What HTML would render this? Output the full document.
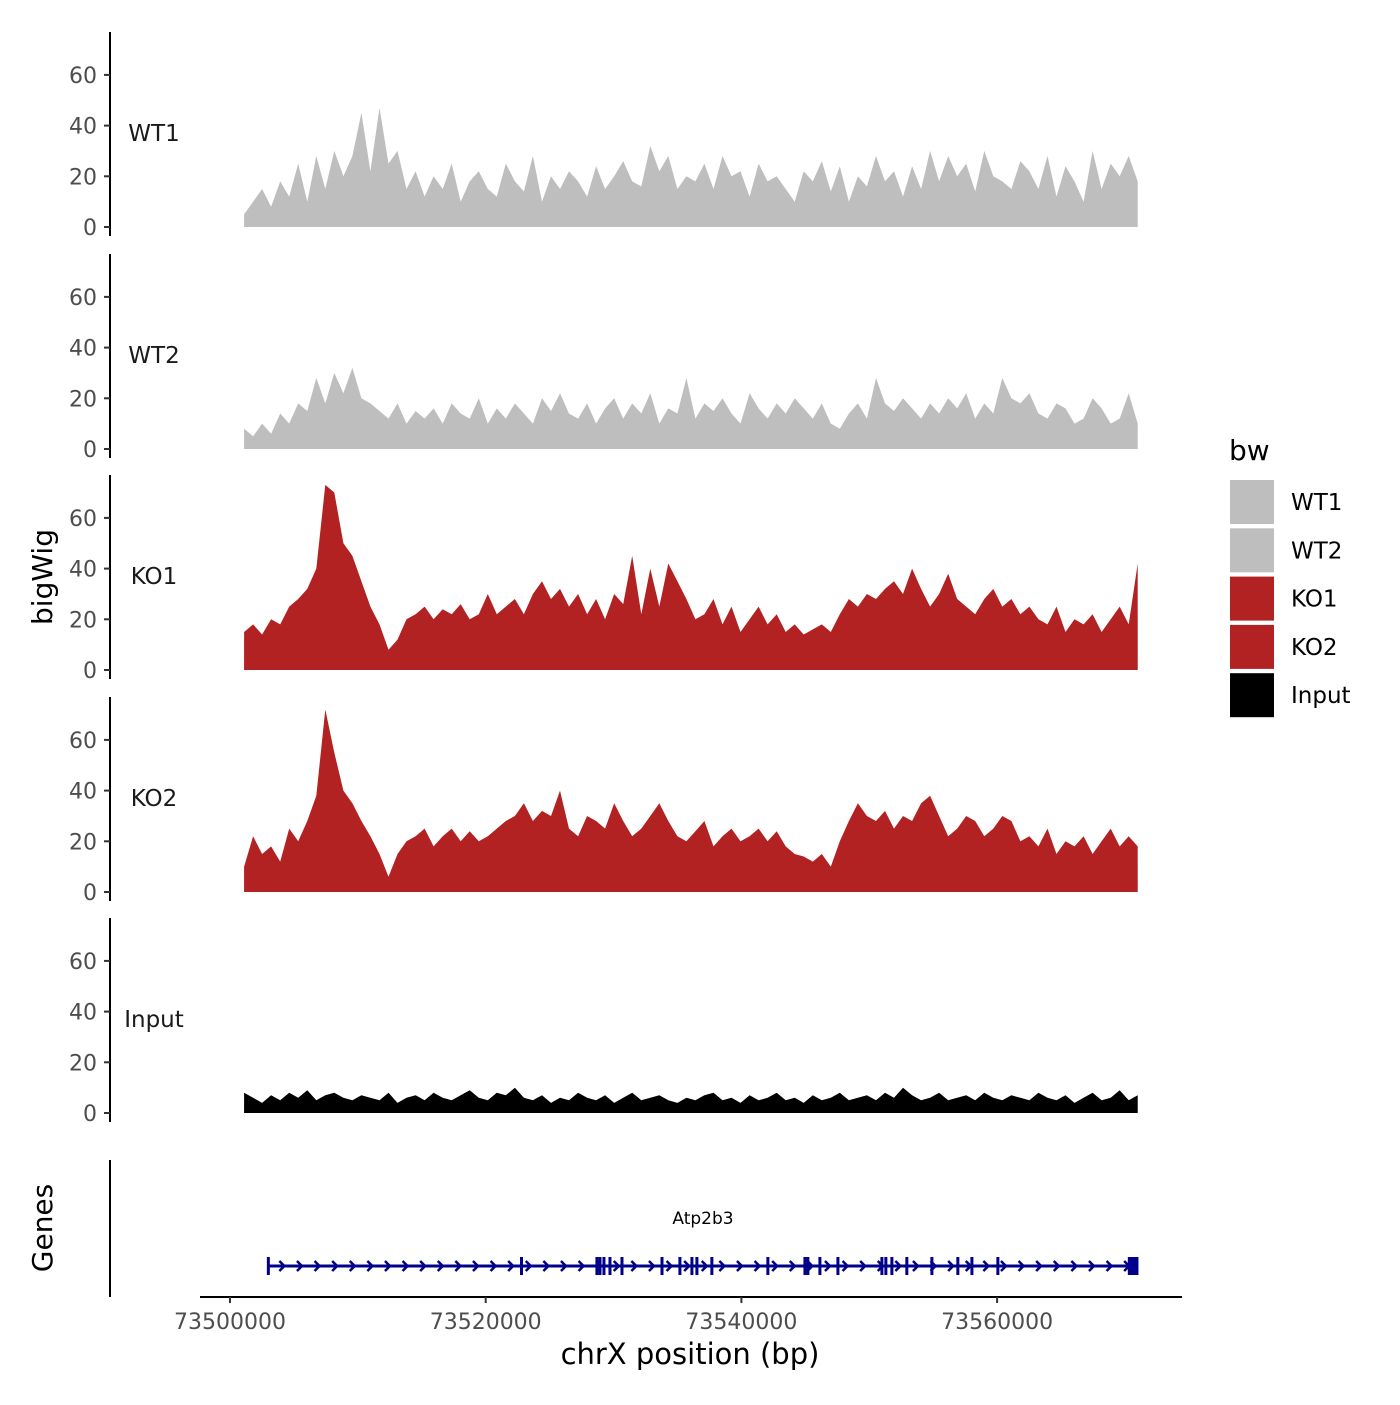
<!DOCTYPE html>
<html><head><meta charset="utf-8"><style>
html,body{margin:0;padding:0;background:#fff;}
svg text{font-family:"DejaVu Sans","Liberation Sans",sans-serif;}
</style></head><body>
<svg id="chart" width="1400" height="1400" viewBox="0 0 1400 1400" xmlns="http://www.w3.org/2000/svg">
<g id="panels"></g>
<g id="genes"></g>
<g id="legend"></g>
</svg>
<script>
const samples = ["WT1","WT2","KO1","KO2","Input"];
const colors = ["#bebebe","#bebebe","#b22222","#b22222","#000000"];
const yTicks = [0,20,40,60];
const xTicks = [73500000,73520000,73540000,73560000];
const xStart = 73501100, xEnd = 73571000;
const wt1 = [5,10,15,8,18,12,25,10,28,15,30,20,28,45,22,47,25,30,15,22,12,20,15,25,10,18,22,15,12,25,18,14,28,10,20,15,22,18,12,24,15,20,26,18,16,32,22,28,15,20,18,25,15,28,20,22,12,25,18,20,15,10,22,18,26,14,24,10,20,16,28,18,22,12,24,15,30,18,28,20,25,14,30,20,18,15,26,22,15,28,12,24,18,10,30,15,25,20,28,18];
const wt2 = [8,5,10,6,14,10,18,15,28,18,30,22,32,20,18,15,12,18,10,15,12,16,10,18,14,12,20,10,16,12,18,14,10,20,15,22,14,12,18,10,16,20,12,18,14,22,10,16,14,28,12,18,15,20,14,10,22,16,12,18,14,20,16,12,18,10,8,14,18,12,28,18,15,20,16,12,18,14,20,16,22,12,18,14,28,20,18,22,14,12,18,16,10,12,20,16,10,12,22,10];
const ko1 = [15,18,14,20,18,25,28,32,40,73,70,50,45,35,25,18,8,12,20,22,25,20,24,22,26,20,22,30,22,25,28,22,30,35,28,32,25,30,22,28,20,30,26,45,22,40,25,42,35,28,20,22,28,18,25,15,20,25,18,22,15,18,14,16,18,15,22,28,25,30,28,32,35,30,40,32,25,30,38,28,25,22,28,32,25,28,22,25,20,18,25,15,20,18,22,15,20,25,18,42];
const ko2 = [10,22,15,18,12,25,20,28,38,72,55,40,35,28,22,15,6,15,20,22,25,18,22,25,20,24,20,22,25,28,30,35,28,32,30,40,25,22,30,28,25,35,28,22,25,30,35,28,22,20,24,28,18,22,25,20,22,25,20,24,18,15,14,12,15,10,20,28,35,30,28,32,25,30,28,35,38,30,22,25,30,28,22,25,30,28,20,22,18,25,15,20,18,22,15,20,25,18,22,18];
const inp = [8,6,4,7,5,8,6,9,5,7,8,6,5,7,6,5,8,4,6,7,5,8,6,5,7,9,6,5,8,7,10,6,5,7,4,6,5,8,6,5,7,4,6,8,5,6,7,5,4,6,5,7,8,5,6,4,7,5,6,8,5,6,4,7,5,6,8,5,6,7,5,8,6,10,7,5,6,8,5,6,7,5,8,6,5,7,6,5,8,6,5,7,4,6,8,5,6,9,5,7];
const series = [wt1,wt2,ko1,ko2,inp];
const exons = [73503000,73522800,73528700,73528940,73529250,73529720,73530660,73533790,73535190,73536130,73536520,73537690,73542070,73544970,73545200,73546140,73547550,73550990,73551300,73551770,73552940,73554900,73556930,73558030,73560060];
const geneStart = 73503000, geneEnd = 73570900, exonBlockStart = 73570380;

const NS="http://www.w3.org/2000/svg";
function mk(tag, attrs, parent){const e=document.createElementNS(NS,tag);for(const k in attrs)e.setAttribute(k,attrs[k]);parent.appendChild(e);return e;}
const xs = v => 230 + (v-73500000)/20000*255.7;
const pxPerUnit = 50.7/20;
const panels = document.getElementById('panels');
const bases = [227,449,670,892,1113];

samples.forEach((s,p)=>{
  const base = bases[p];
  const ys = v => base - v*pxPerUnit;
  const g = mk('g',{},panels);
  
  
  const ax = mk('line',{x1:110,x2:110,y1:base-195,y2:base+9,stroke:'#000','stroke-width':2},g);
  
  
  yTicks.forEach(t=>{
    mk('line',{x1:104,x2:110,y1:ys(t),y2:ys(t),stroke:'#333','stroke-width':2},g);
    const tl = mk('text',{x:97,y:ys(t)+8,'text-anchor':'end','font-size':22,fill:'#4d4d4d'},g);
    tl.textContent=t;
    
    
  });
  const lab = mk('text',{x:154,y:ys(37)+8,'text-anchor':'middle','font-size':23,fill:'#1a1a1a'},g);
  lab.textContent=s;
  
  
  const vals = series[p];
  const n = vals.length;
  let d = 'M'+xs(xStart)+','+base;
  vals.forEach((v,i)=>{const gx = xStart + (xEnd-xStart)*i/(n-1); d+=' L'+xs(gx).toFixed(1)+','+ys(v).toFixed(1);});
  d += ' L'+xs(xEnd)+','+base+' Z';
  const area = mk('path',{d:d,fill:colors[p]},g);
  
  
});
const yt = mk('text',{x:0,y:0,'font-size':28,fill:'#000','text-anchor':'middle',transform:'translate(52,577) rotate(-90)'},panels);
yt.textContent='bigWig';



// genes
const gg = document.getElementById('genes');
const gy = 1266;
mk('line',{x1:110,x2:110,y1:1160,y2:1297,stroke:'#000','stroke-width':2},gg);
const xa = mk('line',{x1:200,x2:1182,y1:1297,y2:1297,stroke:'#000','stroke-width':2},gg);


xTicks.forEach(t=>{
  mk('line',{x1:xs(t),x2:xs(t),y1:1297,y2:1303,stroke:'#333','stroke-width':2},gg);
  const tl = mk('text',{x:xs(t),y:1329,'text-anchor':'middle','font-size':22,fill:'#4d4d4d'},gg);
  tl.textContent=t;
  
  
});
const xt = mk('text',{x:690,y:1364,'text-anchor':'middle','font-size':29,fill:'#000'},gg);
xt.textContent='chrX position (bp)';


const gt = mk('text',{x:0,y:0,'font-size':28,fill:'#000','text-anchor':'middle',transform:'translate(52,1228) rotate(-90)'},gg);
gt.textContent='Genes';


const gl = mk('line',{x1:xs(geneStart),x2:xs(geneEnd),y1:gy,y2:gy,stroke:'#00008b','stroke-width':3},gg);


for(let x=xs(geneStart)+14;x<xs(geneEnd)-8;x+=17.6){
  mk('path',{d:`M${x-3},${gy-5} L${x+2},${gy} L${x-3},${gy+5}`,stroke:'#00008b','stroke-width':2.5,fill:'none'},gg);
}
exons.forEach(e=>{
  const r = mk('rect',{x:xs(e)-1.5,y:gy-9,width:3,height:18,fill:'#00008b'},gg);
  
  
});
mk('rect',{x:xs(exonBlockStart)-2,y:gy-9,width:xs(geneEnd)-xs(exonBlockStart)+4,height:18,fill:'#00008b'},gg);
const gn = mk('text',{x:703,y:1224,'text-anchor':'middle','font-size':17,fill:'#000'},gg);
gn.textContent='Atp2b3';



// legend
const lg = document.getElementById('legend');
const ltitle = mk('text',{x:1229,y:460,'font-size':28,fill:'#000'},lg);
ltitle.textContent='bw';


samples.forEach((s,i)=>{
  const y = 480 + i*48.3;
  const g = mk('g',{},lg);
  
  
  mk('rect',{x:1230,y:y,width:44,height:44,fill:colors[i]},g);
  const t = mk('text',{x:1291,y:y+30,'font-size':23,fill:'#000'},g);
  t.textContent=s;
});
</script>
</body></html>
